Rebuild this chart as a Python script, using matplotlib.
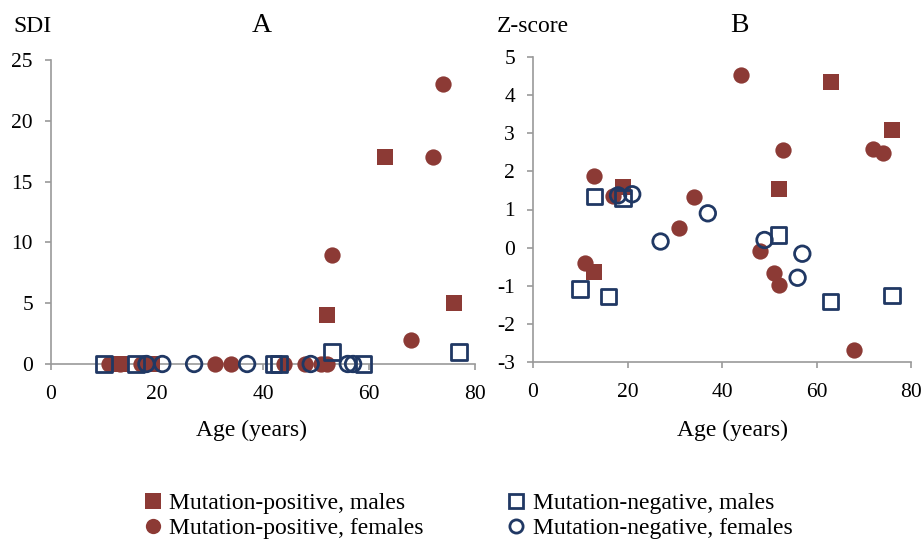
import matplotlib
matplotlib.use("Agg")
import matplotlib.pyplot as plt
from matplotlib.lines import Line2D

plt.rcParams['font.family'] = ['Liberation Serif', 'DejaVu Serif']
plt.rcParams['axes.unicode_minus'] = False

# ---------------- data ----------------
# Panel A: SDI vs age
pos_males_age_A = [13, 19, 52, 63, 76]
pos_males_sdi = [0, 0, 4, 17, 5]
pos_females_age_A = [11, 13, 17, 31, 34, 44, 48, 51, 52, 53, 68, 72, 74]
pos_females_sdi = [0, 0, 0, 0, 0, 0, 0, 0, 0, 9, 2, 17, 23]
neg_males_age_A = [10, 16, 42, 43, 53, 59, 77]
neg_males_sdi = [0, 0, 0, 0, 1, 0, 1]
neg_females_age_A = [18, 21, 27, 37, 49, 56, 57]
neg_females_sdi = [0, 0, 0, 0, 0, 0, 0]

# Panel B: Z-score vs age
pos_males_age_B = [13, 19, 52, 63, 76]
pos_males_z = [-0.63, 1.60, 1.55, 4.35, 3.08]
pos_females_age_B = [11, 13, 17, 31, 34, 44, 48, 51, 52, 53, 68, 72, 74]
pos_females_z = [-0.40, 1.89, 1.35, 0.51, 1.34, 4.52, -0.10, -0.67, -0.97, 2.56, -2.68, 2.60, 2.47]
neg_males_age_B = [10, 13, 16, 19, 52, 63, 76]
neg_males_z = [-1.09, 1.34, -1.28, 1.30, 0.33, -1.41, -1.26]
neg_females_age_B = [18, 21, 27, 37, 49, 56, 57]
neg_females_z = [1.37, 1.40, 0.16, 0.90, 0.20, -0.79, -0.16]

series_labels = ["Mutation-positive, males", "Mutation-positive, females",
                 "Mutation-negative, males", "Mutation-negative, females"]

x_ticks = [0, 20, 40, 60, 80]
a_yticks = [0, 5, 10, 15, 20, 25]
b_yticks = [-3, -2, -1, 0, 1, 2, 3, 4, 5]

# ---------------- style ----------------
RED = "#8c3a35"
BLUE = "#203864"
AXC = "#9a9a9a"
MS = 125
LW = 2.0
W, H = 922, 540

fig = plt.figure(figsize=(W / 100, H / 100), dpi=100)


def px_axes(l, t, r, b):
    return fig.add_axes([l / W, 1 - b / H, (r - l) / W, (b - t) / H])


def style(ax, yticks, ylim):
    ax.set_xlim(0, 80)
    ax.set_ylim(*ylim)
    ax.set_xticks(x_ticks)
    ax.set_yticks(yticks)
    for s in ("top", "right"):
        ax.spines[s].set_visible(False)
    for s in ("left", "bottom"):
        ax.spines[s].set_color(AXC)
        ax.spines[s].set_linewidth(1.2)
    ax.tick_params(axis="both", colors=AXC, labelcolor="black", labelsize=15.5,
                   length=4, width=1.2, direction="out")
    ax.tick_params(axis="x", pad=11)
    ax.tick_params(axis="y", pad=9)
    ax.patch.set_alpha(0)


def draw(ax, pm, pf, nm, nf):
    ax.scatter(*pm, marker="s", s=MS, color=RED, linewidths=0, zorder=3, clip_on=False)
    ax.scatter(*pf, marker="o", s=MS * 1.1, color=RED, linewidths=0, zorder=3, clip_on=False)
    ax.scatter(*nm, marker="s", s=MS, facecolors="none", edgecolors=BLUE,
               linewidths=LW, zorder=4, clip_on=False)
    ax.scatter(*nf, marker="o", s=MS, facecolors="none", edgecolors=BLUE,
               linewidths=LW, zorder=4, clip_on=False)


axA = px_axes(51, 60, 475, 364)
draw(axA, (pos_males_age_A, pos_males_sdi), (pos_females_age_A, pos_females_sdi),
     (neg_males_age_A, neg_males_sdi), (neg_females_age_A, neg_females_sdi))
style(axA, a_yticks, (0, 25))

axB = px_axes(533, 57, 911, 362)
draw(axB, (pos_males_age_B, pos_males_z), (pos_females_age_B, pos_females_z),
     (neg_males_age_B, neg_males_z), (neg_females_age_B, neg_females_z))
style(axB, b_yticks, (-3, 5))

# texts
fig.text(13 / W, 1 - 26 / H, "SDI", fontsize=17, va="center", ha="left")
fig.text(262 / W, 1 - 26 / H, "A", fontsize=20, va="center", ha="center")
fig.text(497 / W, 1 - 26 / H, "Z-score", fontsize=17, va="center", ha="left")
fig.text(739 / W, 1 - 26 / H, "B", fontsize=20, va="center", ha="center")
fig.text(252 / W, 1 - 430 / H, "Age (years)", fontsize=17, va="center", ha="center")
fig.text(732 / W, 1 - 430 / H, "Age (years)", fontsize=17, va="center", ha="center")

# legend
handles = [
    Line2D([], [], marker="s", linestyle="none", markersize=11, color=RED, markeredgewidth=0),
    Line2D([], [], marker="o", linestyle="none", markersize=11, color=RED, markeredgewidth=0),
    Line2D([], [], marker="s", linestyle="none", markersize=9.5, markerfacecolor="none",
           markeredgecolor=BLUE, markeredgewidth=LW),
    Line2D([], [], marker="o", linestyle="none", markersize=9.5, markerfacecolor="none",
           markeredgecolor=BLUE, markeredgewidth=LW),
]
fig.legend(handles, series_labels, ncol=2, frameon=False, fontsize=17,
           loc="center left", bbox_to_anchor=(134 / W, 1 - 516 / H),
           handlelength=0.8, handletextpad=0.3, columnspacing=3.5,
           labelspacing=0.15, borderaxespad=0)

fig.savefig("out.png", dpi=100)
